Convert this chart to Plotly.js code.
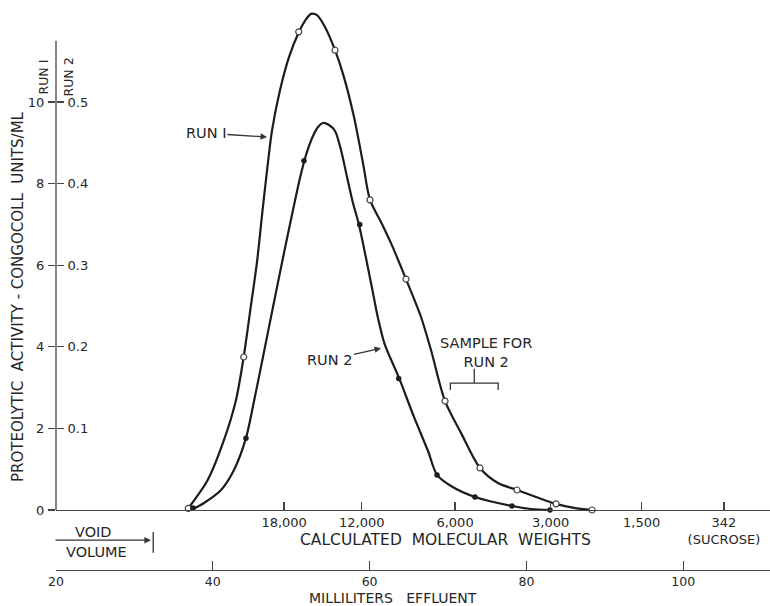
<!DOCTYPE html>
<html>
<head>
<meta charset="utf-8">
<script src="https://cdn.plot.ly/plotly-3.0.1.min.js"></script>
<style>html,body{margin:0;padding:0;background:#fff;}#chart{width:770px;height:606px;}</style>
</head>
<body>
<div id="chart"></div>
<script>
// ---- data ----
// Run 1 (open circles), left scale (congocoll units/ml)
const run1Ml = [36.87, 43.94, 50.96, 55.59, 60.05, 64.64, 69.62, 74.08, 78.80, 83.78, 88.37];
const run1Act = [0.04, 3.75, 11.72, 11.27, 7.60, 5.66, 2.67, 1.03, 0.49, 0.15, 0.0];
// Run 2 (filled circles), right scale
const run2Ml = [37.47, 44.23, 51.63, 58.74, 63.71, 68.60, 73.44, 78.16, 83.01];
const run2Act = [0.0025, 0.088, 0.428, 0.350, 0.161, 0.043, 0.016, 0.005, 0.0];
// hand-drawn smooth curves
const run1CurveMl = [36.71, 39.35, 41.43, 42.96, 43.94, 44.87, 45.64, 46.28, 46.91, 47.55, 48.57, 49.72, 51.00, 51.76, 52.53, 53.29, 54.31, 55.59, 56.73, 58.01, 59.16, 60.05, 61.45, 62.73, 64.64, 66.56, 67.83, 69.62, 71.66, 74.08, 76.38, 78.80, 81.22, 83.78, 86.07, 88.37];
const run1CurveAct = [0.0, 0.735, 1.716, 2.696, 3.75, 5.02, 6.08, 7.23, 8.31, 9.30, 10.29, 11.10, 11.72, 11.99, 12.16, 12.13, 11.84, 11.27, 10.61, 9.63, 8.50, 7.60, 7.06, 6.54, 5.66, 4.73, 3.92, 2.67, 1.89, 1.03, 0.66, 0.49, 0.32, 0.15, 0.05, 0.0];
const run2CurveMl = [37.22, 38.88, 41.05, 42.70, 44.23, 45.26, 46.40, 47.68, 48.95, 50.23, 51.12, 51.89, 52.78, 53.42, 54.06, 54.82, 55.59, 56.35, 57.12, 57.88, 58.65, 60.18, 61.07, 61.90, 63.75, 65.66, 67.45, 68.60, 70.38, 73.44, 78.16, 80.59, 83.01];
const run2CurveAct = [0.0, 0.0086, 0.0245, 0.049, 0.088, 0.1336, 0.1875, 0.2488, 0.3088, 0.3676, 0.4069, 0.4350, 0.4583, 0.4694, 0.4743, 0.4718, 0.4645, 0.4412, 0.4081, 0.3762, 0.3493, 0.2782, 0.2353, 0.2040, 0.1618, 0.1140, 0.0723, 0.043, 0.0294, 0.0159, 0.0049, 0.0012, 0.0];
// axes
const mlTicks = [20, 40, 60, 80, 100];
const run1Ticks = [0, 2, 4, 6, 8, 10];
const run2Ticks = [0.1, 0.2, 0.3, 0.4, 0.5];
const run2TickText = ['0.1', '0.2', '0.3', '0.4', '0.5'];
const mwPositions = [49.1, 59.0, 70.9, 83.1, 94.7, 105.2];
const mwLabels = ['18,000', '12,000', '6,000', '3,000', '1,500', '342<br>(SUCROSE)'];
const voidVolume = 32.4;
const sampleRange = [70.3, 76.4];

// ---- layout ----
const FONT = 'DejaVu Sans, Liberation Sans, sans-serif';
const INK = '#262626';
const xRange = [20, 111.07];
const yRange = [-1.471, 12.304];
const scale2 = 20; // run1 units per run2 unit

const traces = [
  {x: run1CurveMl, y: run1CurveAct, xaxis: 'x', yaxis: 'y', mode: 'lines',
   line: {color: '#1c1c1c', width: 2.2, shape: 'spline', smoothing: 0.8}, hoverinfo: 'skip'},
  {x: run2CurveMl, y: run2CurveAct, xaxis: 'x', yaxis: 'y2', mode: 'lines',
   line: {color: '#1c1c1c', width: 2.2, shape: 'spline', smoothing: 0.8}, hoverinfo: 'skip'},
  {x: run1Ml, y: run1Act, xaxis: 'x', yaxis: 'y', mode: 'markers',
   marker: {symbol: 'circle', size: 6, color: '#fff', line: {color: '#444', width: 1.2}}},
  {x: run2Ml, y: run2Act, xaxis: 'x', yaxis: 'y2', mode: 'markers',
   marker: {symbol: 'circle', size: 5.5, color: '#1c1c1c'}},
  {x: mwPositions, y: mwPositions.map(() => 0), xaxis: 'x2', yaxis: 'y', mode: 'none',
   hoverinfo: 'skip'}
];

const tickFont = {family: FONT, size: 13, color: INK};
const annFont = {family: FONT, size: 14.5, color: INK};

const layout = {
  width: 770, height: 606,
  margin: {l: 56, r: 0, t: 8, b: 36},
  paper_bgcolor: '#fff', plot_bgcolor: '#fff',
  showlegend: false,
  xaxis: {range: xRange, showgrid: false, zeroline: false, showline: true,
          linecolor: '#444', linewidth: 1.3, ticks: 'inside', ticklen: 9,
          tickcolor: '#444', tickwidth: 1.3, tickvals: mlTicks,
          tickfont: {family: FONT, size: 12.5, color: INK}, ticklabelstandoff: 0},
  xaxis2: {range: xRange, overlaying: 'x', anchor: 'free', position: 60 / 562,
           side: 'bottom', showgrid: false, zeroline: false, showline: true,
           linecolor: '#444', linewidth: 1.3, ticks: 'inside', ticklen: 8,
           tickcolor: '#444', tickwidth: 1.3, tickvals: mwPositions,
           ticktext: mwLabels, tickfont: tickFont},
  yaxis: {range: yRange, showgrid: false, zeroline: false, showline: false,
          ticks: 'outside', ticklen: 7, tickcolor: '#444', tickwidth: 1.3,
          tickvals: run1Ticks, tickfont: tickFont, ticklabelstandoff: 1},
  yaxis2: {range: [yRange[0] / scale2, yRange[1] / scale2], overlaying: 'y',
           anchor: 'free', position: 0, side: 'right', showgrid: false,
           zeroline: false, showline: false, ticks: 'outside', ticklen: 7,
           tickcolor: '#444', tickwidth: 1.3, tickvals: run2Ticks,
           ticktext: run2TickText, tickfont: tickFont, ticklabelstandoff: 1},
  shapes: [
    // vertical axis line
    {type: 'line', xref: 'paper', yref: 'y', x0: 0, x1: 0, y0: 0, y1: 11.5,
     line: {color: '#444', width: 1.3}},
    // void volume marker
    {type: 'line', xref: 'x', yref: 'y', x0: voidVolume, x1: voidVolume,
     y0: -0.54, y1: -1.05, line: {color: '#333', width: 1.3}},
    // bracket "sample for run 2"
    {type: 'path', xref: 'x', yref: 'y',
     path: `M ${sampleRange[0]} 2.94 L ${sampleRange[0]} 3.11 L ${sampleRange[1]} 3.11 L ${sampleRange[1]} 2.94 M ${(sampleRange[0] + sampleRange[1]) / 2} 3.11 L ${(sampleRange[0] + sampleRange[1]) / 2} 3.46`,
     line: {color: '#333', width: 1.3}}
  ],
  annotations: [
    {text: 'PROTEOLYTIC  ACTIVITY - CONGOCOLL  UNITS/ML', xref: 'paper', yref: 'y',
     x: 0, xshift: -38, y: 5.22, textangle: -90, showarrow: false,
     xanchor: 'center', yanchor: 'middle', font: {family: FONT, size: 15, color: INK}},
    {text: 'RUN I', xref: 'paper', yref: 'y', x: 0, xshift: -12, y: 10.6,
     xanchor: 'center', yanchor: 'middle',
     textangle: -90, showarrow: false, font: {family: FONT, size: 12.5, color: INK}},
    {text: 'RUN 2', xref: 'paper', yref: 'y', x: 0, xshift: 13, y: 10.6,
     xanchor: 'center', yanchor: 'middle',
     textangle: -90, showarrow: false, font: {family: FONT, size: 12.5, color: INK}},
    {text: 'RUN I', xref: 'x', yref: 'y', x: 47.04, y: 9.14, ax: -62, ay: -4,
     showarrow: true, arrowhead: 2, arrowsize: 1, arrowwidth: 1.3, arrowcolor: '#333',
     standoff: 1, font: annFont},
    {text: 'RUN 2', xref: 'x', yref: 'y', x: 61.58, y: 3.97, ax: -52, ay: 12,
     showarrow: true, arrowhead: 2, arrowsize: 1, arrowwidth: 1.3, arrowcolor: '#333',
     standoff: 1, font: annFont},
    {text: 'SAMPLE FOR<br>RUN 2', xref: 'x', yref: 'y', x: 74.9, y: 3.85,
     showarrow: false, align: 'center', yanchor: 'middle', font: annFont},
    {text: 'CALCULATED  MOLECULAR  WEIGHTS', xref: 'paper', yref: 'paper',
     x: (446 - 56) / 714, y: (570 - 540) / 562, showarrow: false,
     xanchor: 'center', yanchor: 'middle', font: {family: FONT, size: 15.5, color: INK}},
    {text: 'MILLILITERS   EFFLUENT', xref: 'paper', yref: 'paper',
     x: (393 - 56) / 714, y: -(598 - 570) / 562, showarrow: false, borderpad: 0,
     xanchor: 'center', yanchor: 'middle', font: {family: FONT, size: 14, color: INK}},
    {text: 'VOID', xref: 'x', yref: 'y', x: 24.8, y: -0.54, showarrow: false, font: annFont},
    {text: 'VOLUME', xref: 'x', yref: 'y', x: 25.2, y: -1.03, showarrow: false, font: annFont},
    {text: '', xref: 'x', yref: 'y', x: voidVolume - 0.3, y: -0.74,
     axref: 'x', ayref: 'y', ax: 19.75, ay: -0.74, showarrow: true,
     arrowhead: 2, arrowsize: 1, arrowwidth: 1.3, arrowcolor: '#333'}
  ]
};

Plotly.newPlot('chart', traces, layout, {staticPlot: true, displayModeBar: false});
</script>
</body>
</html>
